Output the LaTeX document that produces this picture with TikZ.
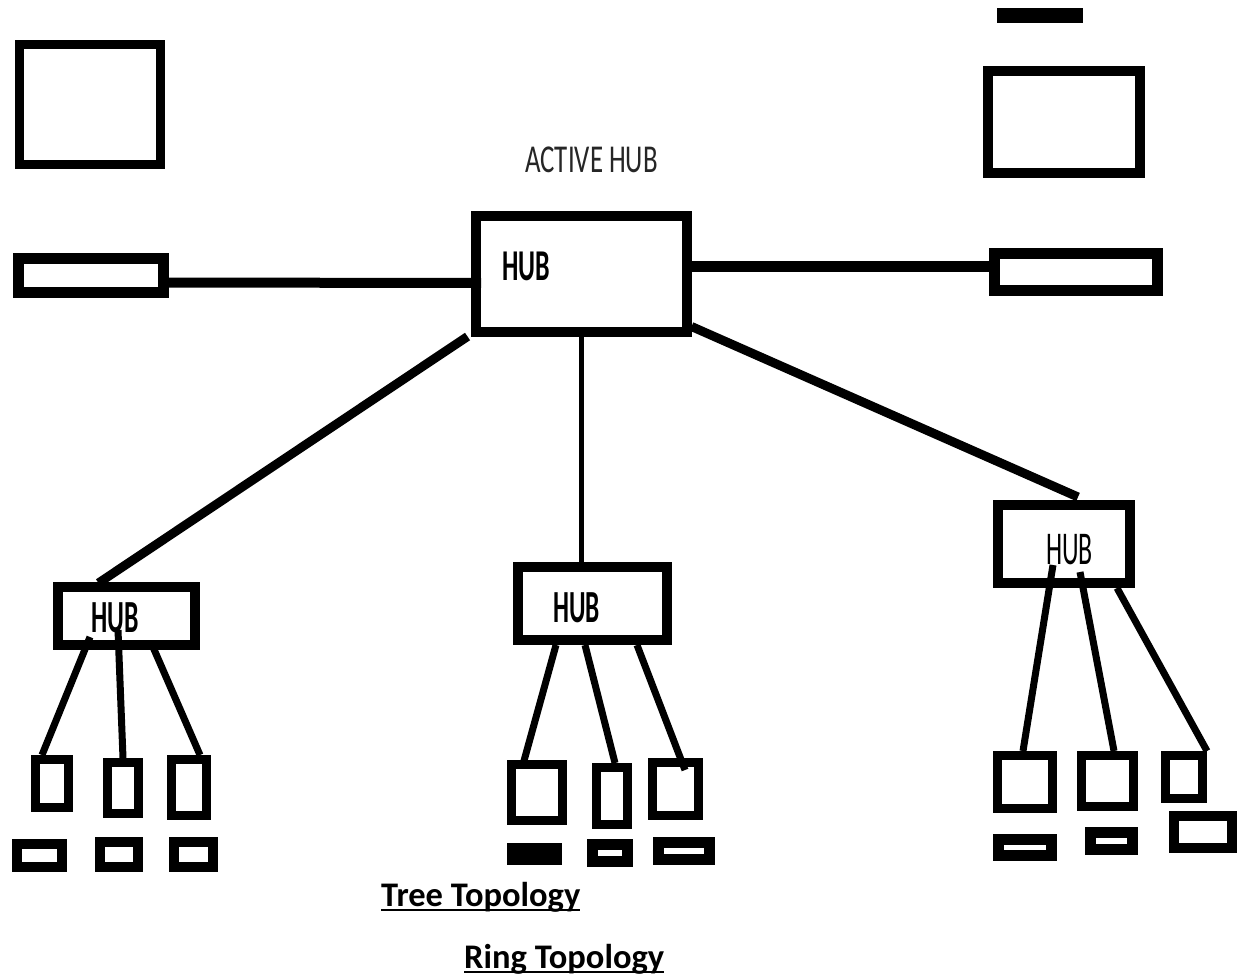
\documentclass[tikz,border=0pt]{standalone}
\usepackage{fontspec}
\setmainfont{Carlito}
\usepackage{graphicx}
\usetikzlibrary{positioning,calc}
\tikzset{
  frame/.style={draw, line width=#1, inner sep=0pt},
  link/.style={line width=#1},
  label text/.style={inner sep=0pt, font=\fontsize{#1}{#1}\selectfont},
}
\newcommand{\squeeze}[2]{\scalebox{#1}[1]{#2}}
\newcommand{\ulined}[1]{\setbox0\hbox{#1}\rlap{\rule[-5.2pt]{\wd0}{2.4pt}}\box0}

\begin{document}
\begin{tikzpicture}[x=1pt, y=-1pt]
      \useasboundingbox (0,0) rectangle (1241,978);

      \node[frame=9, minimum width=141, minimum height=120] (monL) at (90,104.5) {};
      \node[frame=11, minimum width=145, minimum height=34] (barL) at (91,275.5) {};

      \node[fill=black, inner sep=0pt, minimum width=86, minimum height=15] (padR) at (1040,15.5) {};
      \node[frame=10, minimum width=152, minimum height=102] (monR) at (1064,122) {};
      \node[frame=11, minimum width=163, minimum height=37] (barR) at (1076,272) {};

      \node[label text=39.5, text=black!85] (title) at (591.5,159.5) {\squeeze{0.68}{ACTIVE HUB}};
      \node[frame=10, minimum width=211, minimum height=116] (hub) at (581,273.5) {};
      \node[label text=44] (hubname) at (526,266) {\squeeze{0.59}{\bfseries HUB}};

      \node[frame=10, minimum width=137, minimum height=58] (lhub) at (126.5,616) {};
      \node[label text=46] (lhubname) at (115,618) {\squeeze{0.56}{\bfseries HUB}};
      \node[frame=10, minimum width=149, minimum height=73] (mhub) at (592.5,603.5) {};
      \node[label text=46] (mhubname) at (576.5,607.5) {\squeeze{0.55}{\bfseries HUB}};
      \node[frame=10, minimum width=132, minimum height=78] (rhub) at (1064,544) {};
      \node[label text=47] (rhubname) at (1069.5,550) {\squeeze{0.55}{HUB}};

      \node[frame=9, minimum width=33, minimum height=48] (lc1) at (52,783.5) {};
      \node[frame=9, minimum width=31, minimum height=51] (lc2) at (123,788) {};
      \node[frame=9, minimum width=35, minimum height=56] (lc3) at (189,787.5) {};
      \node[frame=10, minimum width=45, minimum height=23] (lb1) at (39.5,855.5) {};
      \node[frame=10, minimum width=38, minimum height=25] (lb2) at (119,854.5) {};
      \node[frame=10, minimum width=39, minimum height=25] (lb3) at (193.5,854.5) {};

      \node[frame=9, minimum width=51, minimum height=56] (mc1) at (537,792.5) {};
      \node[frame=9, minimum width=31, minimum height=57] (mc2) at (612,796) {};
      \node[frame=9, minimum width=46, minimum height=53] (mc3) at (675.5,789) {};
      \node[fill=black, inner sep=0pt, minimum width=55, minimum height=22] (mb1) at (534.5,854) {};
      \node[frame=11, minimum width=35, minimum height=17] (mb2) at (610,853) {};
      \node[frame=11, minimum width=51, minimum height=17] (mb3) at (684,851) {};

      \node[frame=9, minimum width=55, minimum height=53] (rc1) at (1025,782) {};
      \node[frame=9, minimum width=52, minimum height=51] (rc2) at (1107.5,781) {};
      \node[frame=9, minimum width=37, minimum height=43] (rc3) at (1184,777) {};
      \node[frame=11, minimum width=53, minimum height=16] (rb1) at (1025,847.5) {};
      \node[frame=11, minimum width=42, minimum height=17] (rb2) at (1111.5,841) {};
      \node[frame=10, minimum width=58, minimum height=32] (rb3) at (1203,832) {};

      \draw[link=10] ($(barL.east)+(0,7)$) -- ($(hub.west)+(10.5,9.5)$);
      \draw[link=11] ($(hub.east)+(0,-7.5)$) -- ($(barR.west)+(0,-6)$);
      \draw[link=9] ($(hub.south west)+(-3,0)$) -- ($(lhub.north)+(-28,1)$);
      \draw[link=5] (hub.south) -- (hub.south |- mhub.north);
      \draw[link=9] ($(hub.south east)+(0,-10)$) -- ($(rhub.north)+(14,-3)$);

      \draw[link=7] ($(lhub)+(-36.5,21)$) -- ($(lc1.north)+(-10,0)$);
      \draw[link=7] ($(lhub)+(-8.5,14)$) -- (lc2.north);
      \draw[link=7] ($(lhub)+(26.5,31)$) -- ($(lc3.north)+(11,0)$);

      \draw[link=7] ($(mhub.south)+(-36.5,0)$) -- ($(mc1.north)+(-15,8)$);
      \draw[link=7] ($(mhub.south)+(-7.5,0)$) -- ($(mc2.north)+(3,0)$);
      \draw[link=7] ($(mhub.south)+(44.5,0)$) -- ($(mc3.north)+(9.5,12)$);

      \draw[link=7] ($(rhub)+(-11,21)$) -- ($(rc1.north)+(-2,0)$);
      \draw[link=7] ($(rhub)+(16,28)$) -- ($(rc2.north)+(6.5,0)$);
      \draw[link=7] ($(rhub.south)+(53,0)$) -- (rc3.north east);

      \node[label text=34.5, anchor=base west] (tree) at (381,906) {\bfseries\ulined{Tree Topology}};
      \node[label text=34.5, anchor=base west] (ring) at (464,968) {\bfseries\ulined{Ring Topology}};

\end{tikzpicture}
\end{document}
